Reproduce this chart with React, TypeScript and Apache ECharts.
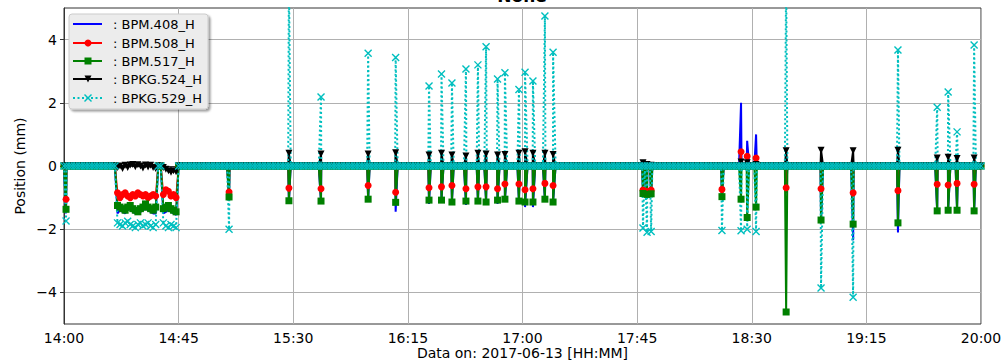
import React, { useEffect, useRef } from "react";
import * as echarts from "echarts";

// ---- data (minutes after 14:00 on 2017-06-13) ----
const seriesNames = ["BPM.408_H", "BPM.508_H", "BPM.517_H", "BPKG.524_H", "BPKG.529_H"];
const spanMinutes = 360;
const sampleStepMinutes = 1;
const baselineValue = 0;
const xTickInterval = 45;
const yTickValues = [-4, -2, 0, 2, 4];

const eventMinutes = [
  0.8, 64.8, 88.3, 100.9, 119.4, 130.2, 143.3, 148.2, 152.3, 157.8, 162.5, 165.7, 170.2, 173.1, 178.6,
  181.0, 184.1, 188.8, 192.0, 227.3, 228.9, 230.5, 258.3, 265.8, 268.2, 271.7, 283.5, 297.2, 309.8,
  327.4, 342.8, 347.1, 350.6, 357.3,
];
const eventBlue = [
  -1.5, -1.0, -1.15, -1.15, -1.1, -1.45, -1.2, -1.1, -1.15, -1.23, -1.15, -1.15, -1.2, -1.1, -1.15,
  -1.3, -1.3, -1.1, -1.15, -0.9, -0.92, -0.9, -1.0, 2.0, 0.8, 1.0, -0.85, -1.75, -2.35,
  -2.1, -1.45, -1.4, -1.4, -1.45,
];
const eventRed = [
  -1.05, -0.82, -0.7, -0.72, -0.62, -0.83, -0.69, -0.66, -0.62, -0.72, -0.66, -0.66, -0.72, -0.57, -0.57,
  -0.75, -0.72, -0.55, -0.62, -0.76, -0.8, -0.76, -0.74, 0.45, 0.31, 0.25, -0.69, -0.72, -0.85,
  -0.78, -0.58, -0.6, -0.55, -0.58,
];
const eventGreen = [
  -1.37, -0.98, -1.1, -1.11, -1.05, -1.15, -1.08, -1.08, -1.14, -1.11, -1.11, -1.14, -1.08, -1.05, -1.11,
  -1.14, -1.14, -1.05, -1.14, -0.87, -0.9, -0.88, -0.97, -1.05, -1.63, -1.3, -4.62, -1.71, -1.84,
  -1.8, -1.42, -1.4, -1.4, -1.42,
];
const eventBlack = [
  0, 0, 0.4, 0.38, 0.38, 0.42, 0.35, 0.4, 0.35, 0.32, 0.4, 0.38, 0.35, 0.36, 0.4,
  0.45, 0.4, 0.4, 0.36, 0.1, 0.05, 0.02, 0, 0.13, 0.1, 0.05, 0.48, 0.5, 0.48,
  0.5, 0.25, 0.28, 0.24, 0.25,
];
const eventCyan = [
  -1.74, -2.0, 6.0, 2.18, 3.57, 3.43, 2.53, 2.91, 2.63, 3.07, 3.2, 3.77, 2.75, 2.95, 2.42,
  2.97, 2.69, 4.75, 3.6, -1.96, -2.1, -2.07, -2.04, -2.05, -2.0, -2.07, 6.0, -3.86, -4.15,
  3.67, 1.86, 2.34, 1.08, 3.83,
];

const blockMinutes = [21, 22, 23, 24, 25, 26, 27, 28, 29, 30, 31, 32, 33, 34, 35, 36, 39, 40, 41, 42, 43, 44];
const blockBlue = [-1.5, -1.4, -1.45, -1.5, -1.4, -1.35, -1.45, -1.5, -1.5, -1.45, -1.4, -1.35, -1.4, -1.45, -1.5, -1.5, -1.5, -1.45, -1.4, -1.45, -1.5, -1.55];
const blockRed = [-0.85, -1.0, -0.9, -0.85, -0.95, -1.0, -0.9, -0.95, -0.85, -0.9, -0.95, -0.9, -1.0, -0.95, -0.9, -0.95, -0.9, -0.75, -0.8, -0.95, -0.9, -1.0];
const blockGreen = [-1.25, -1.3, -1.35, -1.4, -1.3, -1.25, -1.35, -1.4, -1.45, -1.35, -1.3, -1.2, -1.3, -1.35, -1.4, -1.3, -1.35, -1.3, -1.25, -1.35, -1.4, -1.45];
const blockBlack = [-0.05, 0.0, -0.08, 0.02, -0.05, 0.03, 0.05, -0.02, 0.04, 0.0, -0.06, 0.03, -0.03, 0.02, -0.05, -0.08, -0.05, -0.1, -0.15, -0.2, -0.15, -0.18];
const blockCyan = [-1.8, -1.85, -1.9, -1.8, -1.75, -1.85, -1.9, -1.95, -1.85, -1.8, -1.9, -1.85, -1.8, -1.9, -1.95, -1.85, -1.8, -1.9, -1.95, -1.85, -1.9, -1.95];

function buildSeries(eventVals: number[], blockVals: number[]): [number, number][] {
  const pts: [number, number][] = [];
  for (let m = 0; m <= spanMinutes; m += sampleStepMinutes) {
    const bi = blockMinutes.indexOf(m);
    pts.push([m, bi >= 0 ? blockVals[bi] : baselineValue]);
  }
  eventMinutes.forEach((t, i) => pts.push([t, eventVals[i]]));
  pts.sort((a, b) => a[0] - b[0]);
  return pts;
}

const FONT = "DejaVu Sans";
const colors = ["#0000ff", "#ff0000", "#008000", "#000000", "#00bfbf"];
const X_PATH = "path://M0,0L10,10M0,10L10,0";

function fmtTime(v: number) {
  const h = 14 + Math.floor(v / 60);
  const m = Math.round(v % 60);
  return `${h}:${String(m).padStart(2, "0")}`;
}

function legendGraphic() {
  const els: any[] = [];
  const bx = 69, by = 14, bw = 139, bh = 95;
  els.push({
    type: "rect",
    shape: { x: bx, y: by, width: bw, height: bh, r: 3 },
    style: { fill: "#ececec", stroke: "#cccccc", lineWidth: 1, shadowColor: "rgba(0,0,0,0.4)", shadowOffsetX: 2, shadowOffsetY: 2, shadowBlur: 2 },
    z: 100,
  });
  const rows = [24, 43, 61, 79, 98];
  rows.forEach((y, i) => {
    const c = colors[i];
    els.push({
      type: "line",
      shape: { x1: 73, y1: y, x2: 102, y2: y },
      style: { stroke: c, lineWidth: 2, lineDash: i === 4 ? [2, 2.5] : null },
      z: 101,
    });
    if (i === 1) els.push({ type: "circle", shape: { cx: 88, cy: y, r: 3.5 }, style: { fill: c }, z: 102 });
    if (i === 2) els.push({ type: "rect", shape: { x: 84.5, y: y - 3.5, width: 7, height: 7 }, style: { fill: c }, z: 102 });
    if (i === 3) els.push({ type: "polygon", shape: { points: [[84.5, y - 3.5], [91.5, y - 3.5], [88, y + 3.5]] }, style: { fill: c }, z: 102 });
    if (i === 4) {
      els.push({ type: "line", shape: { x1: 84.5, y1: y - 3.5, x2: 91.5, y2: y + 3.5 }, style: { stroke: c, lineWidth: 1.4 }, z: 102 });
      els.push({ type: "line", shape: { x1: 84.5, y1: y + 3.5, x2: 91.5, y2: y - 3.5 }, style: { stroke: c, lineWidth: 1.4 }, z: 102 });
    }
    els.push({
      type: "text",
      x: 113,
      y: y,
      style: { text: ": " + seriesNames[i], fontSize: 13, fontFamily: FONT, fill: "#000", verticalAlign: "middle", align: "left" },
      z: 102,
    });
  });
  return els;
}

export default function App() {
  const ref = useRef<HTMLDivElement>(null);
  useEffect(() => {
    document.body.style.margin = "0";
    if (!ref.current) return;
    const chart = echarts.init(ref.current, undefined, { renderer: "svg" });
    const base = {
      type: "line",
      showAllSymbol: true,
      clip: true,
      silent: true,
      emphasis: { disabled: true },
    };
    const option: any = {
      animation: false,
      backgroundColor: "#ffffff",
      grid: {
        left: 64, right: 20, top: 8, bottom: 39,
        containLabel: false, outerBoundsMode: "none",
        show: true, borderColor: "#333", borderWidth: 1, backgroundColor: "transparent",
      },
      xAxis: {
        type: "value",
        min: 0,
        max: spanMinutes,
        interval: xTickInterval,
        axisLine: { show: true, lineStyle: { color: "#333", width: 1 } },
        axisTick: { show: true, length: 4, lineStyle: { color: "#333" } },
        axisLabel: { formatter: fmtTime, fontSize: 14, fontFamily: FONT, color: "#000", margin: 7 },
        splitLine: { show: true, lineStyle: { color: "#b0b0b0", width: 1 } },
        name: "Data on: 2017-06-13 [HH:MM]",
        nameLocation: "middle",
        nameGap: 21,
        nameMoveOverlap: false,
        nameTextStyle: { fontSize: 14, fontFamily: FONT, color: "#000", lineHeight: 16 },
      },
      yAxis: {
        type: "value",
        min: -5,
        max: 5,
        axisLine: { show: true, lineStyle: { color: "#333", width: 1 } },
        axisTick: { show: true, length: 4, customValues: yTickValues, lineStyle: { color: "#333" } },
        axisLabel: {
          customValues: yTickValues,
          fontSize: 14,
          fontFamily: FONT,
          color: "#000",
          margin: 7,
          formatter: (v: number) => String(v).replace("-", "\u2212"),
        },
        splitLine: { show: true, lineStyle: { color: "#b0b0b0", width: 1 } },
        name: "Position (mm)",
        nameLocation: "middle",
        nameGap: 37,
        nameMoveOverlap: false,
        nameTextStyle: { fontSize: 14, fontFamily: FONT, color: "#000" },
      },
      series: [
        { ...base, name: seriesNames[0], data: buildSeries(eventBlue, blockBlue), symbol: "none", showSymbol: false, lineStyle: { color: colors[0], width: 2 }, itemStyle: { color: colors[0] } },
        { ...base, name: seriesNames[1], data: buildSeries(eventRed, blockRed), symbol: "circle", symbolSize: 7, lineStyle: { color: colors[1], width: 1.8 }, itemStyle: { color: colors[1], borderWidth: 0 } },
        { ...base, name: seriesNames[2], data: buildSeries(eventGreen, blockGreen), symbol: "rect", symbolSize: 7, lineStyle: { color: colors[2], width: 2 }, itemStyle: { color: colors[2], borderWidth: 0 } },
        { ...base, name: seriesNames[3], data: buildSeries(eventBlack, blockBlack), symbol: "triangle", symbolRotate: 180, symbolSize: 7, lineStyle: { color: colors[3], width: 2 }, itemStyle: { color: colors[3], borderWidth: 0 } },
        { ...base, name: seriesNames[4], data: buildSeries(eventCyan, blockCyan), symbol: X_PATH, symbolSize: 7, lineStyle: { color: colors[4], width: 2, type: [2, 2.5] }, itemStyle: { color: "none", borderColor: colors[4], borderWidth: 1.4 } },
      ],
      graphic: [
        {
          type: "text",
          x: 522,
          y: 4,
          style: { text: "None", fontSize: 17, fontWeight: "bold", fontFamily: FONT, fill: "#000", align: "center", verticalAlign: "bottom" },
        },
        ...legendGraphic(),
      ],
    };
    chart.setOption(option);
    return () => chart.dispose();
  }, []);
  return <div ref={ref} style={{ width: 1001, height: 363 }} />;
}
